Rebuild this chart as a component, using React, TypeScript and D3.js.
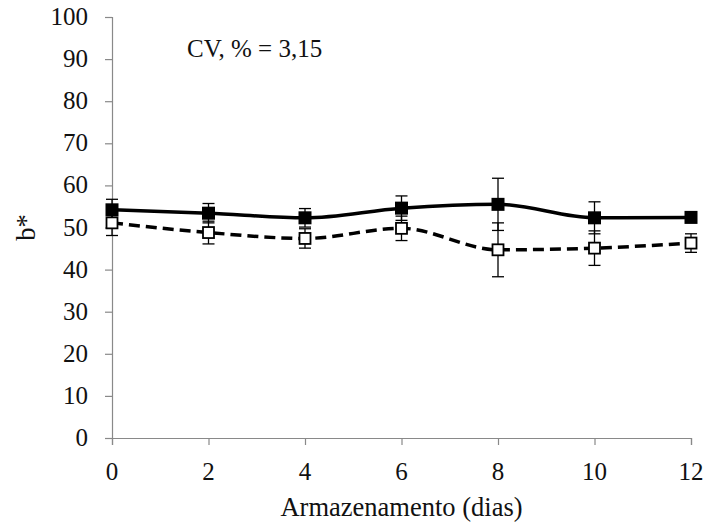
import React from "react";
import * as d3 from "d3";

const days = [0, 2, 4, 6, 8, 10, 12];
const filledValues = [54.2, 53.4, 52.3, 54.6, 55.5, 52.3, 52.4];
const filledErrors = [2.5, 2.3, 2.2, 2.9, 6.2, 3.8, 1.2];
const openValues = [51.1, 48.8, 47.4, 49.8, 44.7, 45.1, 46.3];
const openErrors = [3.0, 2.7, 2.3, 2.9, 6.4, 4.1, 2.2];
const yTicks = [0, 10, 20, 30, 40, 50, 60, 70, 80, 90, 100];
const xTicks = [0, 2, 4, 6, 8, 10, 12];

const width = 707;
const height = 522;
const left = 112;
const right = 691;
const top = 17;
const bottom = 438;
const axisColor = "#898989";
const textColor = "#111";
const serif = { fontFamily: "Liberation Serif" };

export default function App() {
  const x = d3.scaleLinear().domain([0, 12]).range([left, right]);
  const y = d3.scaleLinear().domain([0, 100]).range([bottom, top]);

  const line = d3
    .line<number>()
    .x((_, i) => x(days[i]))
    .y((d) => y(d))
    .curve(d3.curveMonotoneX);

  const errorBars = (vals: number[], errs: number[], key: string) =>
    vals.map((v, i) => {
      const cx = x(days[i]);
      const lo = y(v - errs[i]);
      const hi = y(v + errs[i]);
      return (
        <g key={key + i} stroke="#000" strokeWidth={1.3}>
          <line x1={cx} x2={cx} y1={lo} y2={hi} />
          <line x1={cx - 6} x2={cx + 6} y1={lo} y2={lo} />
          <line x1={cx - 6} x2={cx + 6} y1={hi} y2={hi} />
        </g>
      );
    });

  return (
    <svg
      width={width}
      height={height}
      style={{ position: "absolute", left: 0, top: 0, background: "#fff", ...serif }}
    >
      {/* y axis */}
      <path
        d={`M${left - 7},${top + 0.5}H${left + 0.5}V${bottom + 0.5}H${left - 7}`}
        fill="none"
        stroke={axisColor}
        strokeWidth={1.2}
      />
      {yTicks.map((t) => (
        <g key={"y" + t}>
          <line x1={left - 7} x2={left} y1={y(t) + 0.5} y2={y(t) + 0.5} stroke={axisColor} strokeWidth={1.2} />
          <text
            x={left - 24}
            y={y(t)}
            dy="0.32em"
            textAnchor="end"
            fill={textColor}
            style={{ ...serif, fontSize: 25 }}
          >
            {t}
          </text>
        </g>
      ))}

      {/* x axis */}
      <path
        d={`M${left + 0.5},${bottom + 7}V${bottom + 0.5}H${right + 0.5}V${bottom + 7}`}
        fill="none"
        stroke={axisColor}
        strokeWidth={1.2}
      />
      {xTicks.map((t) => (
        <g key={"x" + t}>
          <line x1={x(t) + 0.5} x2={x(t) + 0.5} y1={bottom} y2={bottom + 7} stroke={axisColor} strokeWidth={1.2} />
          <text
            x={x(t)}
            y={bottom + 24}
            dy="0.71em"
            textAnchor="middle"
            fill={textColor}
            style={{ ...serif, fontSize: 25 }}
          >
            {t}
          </text>
        </g>
      ))}

      <text
        x={(left + right) / 2}
        y={bottom + 78}
        textAnchor="middle"
        fill={textColor}
        style={{ ...serif, fontSize: 26.5 }}
      >
        Armazenamento (dias)
      </text>
      <text
        transform={`translate(${left - 77},${(top + bottom) / 2}) rotate(-90)`}
        textAnchor="middle"
        fill={textColor}
        style={{ ...serif, fontSize: 26.5 }}
      >
        b*
      </text>
      <text x={187} y={57} fill={textColor} style={{ ...serif, fontSize: 25 }}>
        CV, % = 3,15
      </text>

      {errorBars(filledValues, filledErrors, "fe")}
      {errorBars(openValues, openErrors, "oe")}

      <path
        d={line(openValues) || ""}
        fill="none"
        stroke="#000"
        strokeWidth={3.5}
        strokeDasharray="11,6"
      />
      <path d={line(filledValues) || ""} fill="none" stroke="#000" strokeWidth={3.5} />

      {filledValues.map((v, i) => (
        <rect
          key={"f" + i}
          x={x(days[i]) - 6.5}
          y={y(v) - 6.5}
          width={13}
          height={13}
          fill="#000"
        />
      ))}
      {openValues.map((v, i) => (
        <rect
          key={"o" + i}
          x={x(days[i]) - 5.5}
          y={y(v) - 5.5}
          width={11}
          height={11}
          fill="#fff"
          stroke="#000"
          strokeWidth={1.8}
        />
      ))}
    </svg>
  );
}
